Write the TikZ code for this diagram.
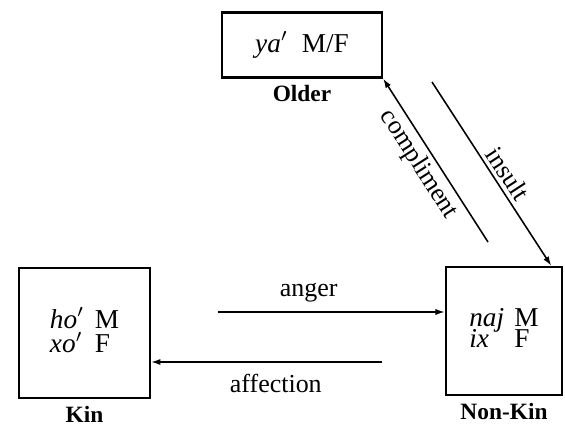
\documentclass[tikz,border=0pt]{standalone}
\usepackage{fontspec}
\setmainfont{Liberation Serif}
\usetikzlibrary{arrows.meta,positioning}

\begin{document}
\begin{tikzpicture}[
  x=0.385pt,y=-0.385pt,
  group/.style={draw,line width=0.9pt,inner sep=0pt,align=center,font=\fontsize{10.5}{12}\selectfont},
  tag/.style={font=\bfseries\small,inner sep=2.5pt},
  verb/.style={font=\normalsize,inner sep=1.5pt},
  arr/.style={-{Latex[length=3.6pt,width=2.4pt]},line width=0.6pt}
]
  \useasboundingbox (0,0) rectangle (565,425);
  \node[group,minimum width=61.6pt,minimum height=25pt,label={[tag]below:Older}] (older) at (302,45)
    {\textit{ya}$'$\ \ M/F};
  \node[group,minimum width=50.4pt,minimum height=50pt,label={[tag]below:Kin}] (kin) at (84.5,333)
    {\def\arraystretch{0.6}\begin{tabular}{@{}l@{\hspace{4pt}}l@{}}\textit{ho}$'$ & M\\[-0.5pt] \textit{xo}$'$ & F\end{tabular}};
  \node[group,minimum width=44.7pt,minimum height=49.3pt,label={[tag]below:Non-Kin}] (nonkin) at (504,331)
    {\def\arraystretch{0.6}\begin{tabular}{@{}l@{\hspace{4pt}}l@{}}\textit{naj} & M\\[-1pt] \textit{ix} & F\end{tabular}};
  \coordinate (angerstart) at (218,312);
  \coordinate (affstart) at (382,362);
  \coordinate (complstart) at (488,242);
  \coordinate (insultstart) at (432,82);
  \draw[arr] (angerstart) -- (angerstart -| nonkin.west) node[verb,pos=0.4,above=2pt] {anger};
  \draw[arr] (affstart) -- (affstart -| kin.east) node[verb,pos=0.46,below=3pt] {affection};
  \draw[arr] (complstart) -- (older.south east) node[verb,pos=0.53,sloped,below] {compliment};
  \draw[arr] (insultstart) -- ([xshift=-4.6pt]nonkin.north east) node[verb,pos=0.54,sloped,above] {insult};
\end{tikzpicture}
\end{document}
